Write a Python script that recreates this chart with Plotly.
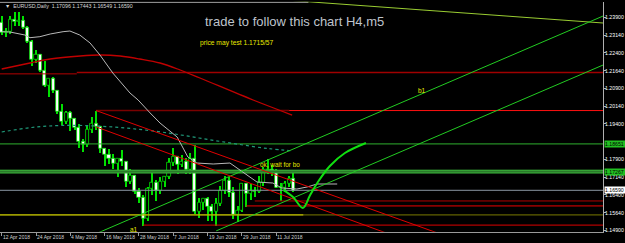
import plotly.graph_objects as go

# ---------------- candles: EURUSD daily ----------------
dates = ["12 Apr", "13 Apr", "16 Apr", "17 Apr", "18 Apr", "19 Apr", "20 Apr", "23 Apr", "24 Apr", "25 Apr",
         "26 Apr", "27 Apr", "30 Apr", "1 May", "2 May", "3 May", "4 May", "7 May", "8 May", "9 May",
         "10 May", "11 May", "14 May", "15 May", "16 May", "17 May", "18 May", "21 May", "22 May", "23 May",
         "24 May", "25 May", "28 May", "29 May", "30 May", "31 May", "1 Jun", "4 Jun", "5 Jun", "6 Jun",
         "7 Jun", "8 Jun", "11 Jun", "12 Jun", "13 Jun", "14 Jun", "15 Jun", "18 Jun", "19 Jun", "20 Jun",
         "21 Jun", "22 Jun", "25 Jun", "26 Jun", "27 Jun", "28 Jun", "29 Jun", "2 Jul", "3 Jul", "4 Jul",
         "5 Jul", "6 Jul", "9 Jul", "10 Jul", "11 Jul", "12 Jul", "13 Jul", "16 Jul", "17 Jul"]
opens = [1.2366, 1.2327, 1.2330, 1.2379, 1.2372, 1.2375, 1.2347, 1.2288, 1.2211, 1.2233,
         1.2163, 1.2103, 1.2129, 1.2079, 1.1991, 1.1950, 1.1988, 1.1960, 1.1922, 1.1863,
         1.1850, 1.1917, 1.1942, 1.1928, 1.1834, 1.1808, 1.1794, 1.1772, 1.1792, 1.1780,
         1.1696, 1.1720, 1.1655, 1.1626, 1.1538, 1.1665, 1.1693, 1.1658, 1.1696, 1.1716,
         1.1775, 1.1800, 1.1768, 1.1780, 1.1745, 1.1794, 1.1568, 1.1608, 1.1624, 1.1588,
         1.1570, 1.1604, 1.1656, 1.1701, 1.1648, 1.1555, 1.1573, 1.1685, 1.1644, 1.1657,
         1.1655, 1.1690, 1.1746, 1.1748, 1.1741, 1.1670, 1.1668, 1.1685, 1.17096]
highs = [1.2396, 1.2346, 1.2396, 1.2414, 1.2413, 1.2397, 1.2356, 1.2296, 1.2254, 1.2238,
         1.2208, 1.2132, 1.2138, 1.2084, 1.2026, 1.1996, 1.1995, 1.1966, 1.1940, 1.1879,
         1.1932, 1.1972, 1.1996, 1.1934, 1.1839, 1.1836, 1.1812, 1.1788, 1.1830, 1.1780,
         1.1749, 1.1725, 1.1669, 1.1639, 1.1676, 1.1732, 1.1705, 1.1717, 1.1722, 1.1796,
         1.1840, 1.1803, 1.1810, 1.1796, 1.1820, 1.1852, 1.1626, 1.1625, 1.1631, 1.1603,
         1.1629, 1.1677, 1.1721, 1.1715, 1.1676, 1.1592, 1.1692, 1.1690, 1.1688, 1.1674,
         1.1720, 1.1760, 1.1791, 1.1768, 1.1749, 1.1690, 1.1698, 1.1720, 1.17443]
lows = [1.2315, 1.2306, 1.2320, 1.2356, 1.2354, 1.2341, 1.2283, 1.2184, 1.2197, 1.2160,
        1.2096, 1.2055, 1.2070, 1.1984, 1.1937, 1.1939, 1.1910, 1.1913, 1.1838, 1.1821,
        1.1842, 1.1904, 1.1917, 1.1820, 1.1763, 1.1771, 1.1750, 1.1716, 1.1765, 1.1676,
        1.1686, 1.1644, 1.1605, 1.1510, 1.1531, 1.1642, 1.1617, 1.1646, 1.1676, 1.1707,
        1.1764, 1.1728, 1.1760, 1.1730, 1.1729, 1.1560, 1.1542, 1.1575, 1.1532, 1.1530,
        1.1508, 1.1592, 1.1644, 1.1630, 1.1541, 1.1525, 1.1568, 1.1591, 1.1620, 1.1631,
        1.1649, 1.1680, 1.1731, 1.1720, 1.1668, 1.1616, 1.1652, 1.1675, 1.16549]
closes = [1.2327, 1.2330, 1.2379, 1.2372, 1.2375, 1.2347, 1.2288, 1.2211, 1.2233, 1.2163,
          1.2103, 1.2129, 1.2079, 1.1991, 1.1950, 1.1988, 1.1960, 1.1922, 1.1863, 1.1850,
          1.1917, 1.1942, 1.1928, 1.1834, 1.1808, 1.1794, 1.1772, 1.1792, 1.1780, 1.1696,
          1.1720, 1.1655, 1.1626, 1.1538, 1.1665, 1.1693, 1.1658, 1.1696, 1.1716, 1.1775,
          1.1800, 1.1768, 1.1780, 1.1745, 1.1794, 1.1568, 1.1608, 1.1624, 1.1588, 1.1570,
          1.1604, 1.1656, 1.1701, 1.1648, 1.1555, 1.1573, 1.1685, 1.1644, 1.1657, 1.1655,
          1.1690, 1.1746, 1.1748, 1.1741, 1.1670, 1.1668, 1.1685, 1.1710, 1.16590]

# ---------------- axes ----------------
x_tick_idx = [0, 8, 16, 24, 32, 40, 48, 56, 64]
x_tick_labels = ["12 Apr 2018", "24 Apr 2018", "4 May 2018", "16 May 2018", "28 May 2018",
                 "7 Jun 2018", "19 Jun 2018", "29 Jun 2018", "11 Jul 2018"]
y_tick_vals = [1.2390, 1.2314, 1.2240, 1.2164, 1.2090, 1.2014, 1.1940, 1.1790, 1.1714, 1.1640, 1.1564, 1.1490]
y_tick_labels = ["1.23900", "1.23140", "1.22400", "1.21640", "1.20900", "1.20140", "1.19400",
                 "1.17900", "1.17140", "1.16400", "1.15640", "1.14900"]

# ---------------- indicators (bar index, price) ----------------
gray_ma_idx = [0, 1.9, 5.4, 6.6, 8.9, 11.3, 14.3, 15.9, 18.2, 20.6, 22.9, 25.9, 29.9, 31.8, 34.6, 36.9,
               40.9, 43.4, 45.5, 49.3, 53.2, 59.5, 63.2, 65.3, 68.8, 71.2, 73.5, 78.2]
gray_ma_val = [1.23292, 1.23279, 1.23152, 1.23038, 1.23080, 1.23194, 1.23292, 1.23321, 1.23152, 1.22814,
               1.22307, 1.21547, 1.20701, 1.20406, 1.19857, 1.19434, 1.18842, 1.17997, 1.17743, 1.17701,
               1.17743, 1.16941, 1.16898, 1.16687, 1.16645, 1.16730, 1.16856, 1.16856]
red_ma_idx = [0, 6.6, 11.3, 18.3, 22.9, 27.6, 32.2, 36.9, 41.6, 46.2, 58.6, 67.7]
red_ma_val = [1.21716, 1.21969, 1.22138, 1.22265, 1.22307, 1.22265, 1.22138, 1.21969, 1.21673, 1.21335,
              1.20405, 1.19771]
teal_ma_idx = [0, 7, 14, 22, 30, 38, 46, 54, 62, 68]
teal_ma_val = [1.19054, 1.19244, 1.19329, 1.19307, 1.19202, 1.19033, 1.18800, 1.18568, 1.18356, 1.18251]

# ---------------- drawn objects ----------------
green_up_1 = ([20, 142], [1.14602, 1.24095])
green_up_2 = ([50, 142], [1.14875, 1.22025])
olive_line = ([68, 142], [1.24602, 1.23635])
red_down_1 = ([22, 105], [1.19960, 1.14565])
red_down_2 = ([22, 92], [1.19270, 1.14629])
hand_curve_idx = [65.6, 67.9, 70.2, 71.9, 73.7, 76.5, 80.0, 84.9]
hand_curve_val = [1.16609, 1.16307, 1.15843, 1.16392, 1.16941, 1.17617, 1.18166, 1.18589]

lvl_top_white = 1.2454
lvl_darkred_a, lvl_darkred_b = 1.2151, 1.2157
lvl_may14_high = 1.1996
lvl_green_1, lvl_green_1_txt = 1.1855, "1.18651"
lvl_green_2, lvl_green_2_txt = 1.1738, "1.17267"
lvl_bid, lvl_bid_txt = 1.16590, "1.16590"
lvl_yellow = 1.1555
lvl_red_r1, lvl_red_r2, lvl_red_low = 1.1614, 1.1593, 1.1512

GREEN = "#00e000"
X0, X1 = -0.396, 140.16
Y0, Y1 = 1.14841, 1.24559

fig = go.Figure()
idx = list(range(len(opens)))

# wicks
fig.add_trace(go.Bar(x=idx, y=[h - l for h, l in zip(highs, lows)], base=lows, width=0.24,
                     marker=dict(color=GREEN, line=dict(width=0)), hoverinfo="skip"))
# bodies
fig.add_trace(go.Bar(x=idx,
                     y=[max(abs(c - o), 0.00005) for o, c in zip(opens, closes)],
                     base=[min(o, c) for o, c in zip(opens, closes)], width=0.72,
                     marker=dict(color=["#ffffff" if c < o else "#000000" for o, c in zip(opens, closes)],
                                 line=dict(color=GREEN, width=0.8)), hoverinfo="skip"))


def line(xs, ys, color, width=1, dash=None, shape="linear"):
    fig.add_trace(go.Scatter(x=xs, y=ys, mode="lines", hoverinfo="skip",
                             line=dict(color=color, width=width, dash=dash, shape=shape)))


def hline(y, x_from, x_to, color, width=1):
    line([x_from, x_to], [y, y], color, width)


# horizontal levels
hline(lvl_top_white, -2, 71.5, "#d8d8d8")
hline(lvl_darkred_a, -2, 17.5, "#b40000")
hline(lvl_darkred_b, 17.5, 142, "#a00000", 1.5)
hline(lvl_may14_high, 22, 67, "#7a0000", 1.5)
hline(lvl_may14_high, 67, 142, "#ff1010")
hline(lvl_green_1, -2, 142, "#2fb02f")
hline(lvl_green_2, -2, 142, "#2a7a2a", 3)
hline(lvl_green_2 + 0.0006, -2, 142, "#3cb43c", 1)
hline(lvl_green_2 - 0.0006, -2, 142, "#3cb43c", 1)
hline(lvl_bid, -2, 142, "#8a96a2")
hline(lvl_yellow, -2, 142, "#7a7a00")
hline(lvl_yellow, -2, 70.3, "#d2d200")
hline(lvl_red_r1, 59, 142, "#b00000")
hline(lvl_red_r2, 57, 142, "#ee0000")
hline(lvl_red_low, 33, 142, "#dd0000")

# moving averages
line(red_ma_idx, red_ma_val, "#c00000", 1.3, shape="spline")
line(teal_ma_idx, teal_ma_val, "#1f9a7a", 1.2, dash="dot", shape="spline")
line(gray_ma_idx, gray_ma_val, "#b8b8b8", 1)

# trend lines
line(*olive_line, "#9acd32", 1)
line(*green_up_1, "#22cc22", 1)
line(*green_up_2, "#22cc22", 1)
line(*red_down_1, "#e00000", 1)
line(*red_down_2, "#e00000", 1)
line(hand_curve_idx, hand_curve_val, "#10e010", 2, shape="spline")

annotations = []
FONT = "Liberation Sans, Arial, sans-serif"
for i, t in zip(x_tick_idx, x_tick_labels):
    annotations.append(dict(x=i, xref="x", y=0.0267, yref="paper", xanchor="left", yanchor="middle",
                            text=t, showarrow=False, xshift=-1,
                            font=dict(family=FONT, size=5, color="#d0d0d0")))

for val, txt, bg in [(lvl_green_1, lvl_green_1_txt, "#22c022"), (lvl_green_2, lvl_green_2_txt, "#22c022"),
                     (lvl_bid, lvl_bid_txt, "#ffffff")]:
    annotations.append(dict(x=603.5 / 625, xref="paper", y=val, yref="y", xanchor="left", yanchor="middle",
                            text=txt, showarrow=False, bgcolor=bg, width=21, height=6, borderpad=0,
                            align="left", font=dict(family=FONT, size=5.2, color="#000000")))

annotations += [
    dict(x=3 / 625, xref="paper", y=(243 - 5.7) / 243, yref="paper", xanchor="left", yanchor="middle",
         text="▼  EURUSD,Daily  1.17096 1.17443 1.16549 1.16590", showarrow=False,
         font=dict(family=FONT, size=5.3, color="#d8d8d8")),
    dict(x=294.5 / 625, xref="paper", y=(243 - 21.7) / 243, yref="paper", xanchor="center", yanchor="middle",
         text="trade to follow this chart H4,m5", showarrow=False,
         font=dict(family=FONT, size=13, color="#bfc4cc")),
    dict(x=237 / 625, xref="paper", y=(243 - 43.3) / 243, yref="paper", xanchor="center", yanchor="middle",
         text="price may test 1.1715/57", showarrow=False,
         font=dict(family=FONT, size=6.7, color="#e8e800")),
    dict(x=280 / 625, xref="paper", y=(243 - 164.3) / 243, yref="paper", xanchor="center", yanchor="middle",
         text="ok, wait for bo", showarrow=False,
         font=dict(family=FONT, size=6.4, color="#e8e800")),
    dict(x=422 / 625, xref="paper", y=(243 - 91) / 243, yref="paper", xanchor="center", yanchor="middle",
         text="b1", showarrow=False, font=dict(family=FONT, size=6.5, color="#e8e800")),
    dict(x=134 / 625, xref="paper", y=(243 - 229) / 243, yref="paper", xanchor="center", yanchor="middle",
         text="a1", showarrow=False, font=dict(family=FONT, size=6.5, color="#e8e800")),
]

fig.update_layout(
    template="none", width=625, height=243, margin=dict(l=0, r=0, t=0, b=0),
    paper_bgcolor="#000000", plot_bgcolor="#000000", showlegend=False,
    barmode="overlay", bargap=0, annotations=annotations,
    xaxis=dict(domain=[0, 603 / 625], range=[X0, X1], showgrid=False, zeroline=False, automargin=False,
               showline=True, linecolor="#9a9a9a", linewidth=1, ticks="outside", ticklen=3,
               tickcolor="#9a9a9a", tickvals=x_tick_idx, showticklabels=False, fixedrange=True),
    yaxis=dict(domain=[11.3 / 243, 241.3 / 243], range=[Y0, Y1], side="right", showgrid=False,
               zeroline=False, automargin=False, showline=True, mirror=True, linecolor="#b0b0b0",
               linewidth=1, ticks="outside", ticklen=2, tickcolor="#b0b0b0", ticklabelstandoff=-2,
               tickvals=y_tick_vals, ticktext=y_tick_labels,
               tickfont=dict(family=FONT, size=5.2, color="#ffffff"), fixedrange=True),
)

fig.write_html("out.html")
